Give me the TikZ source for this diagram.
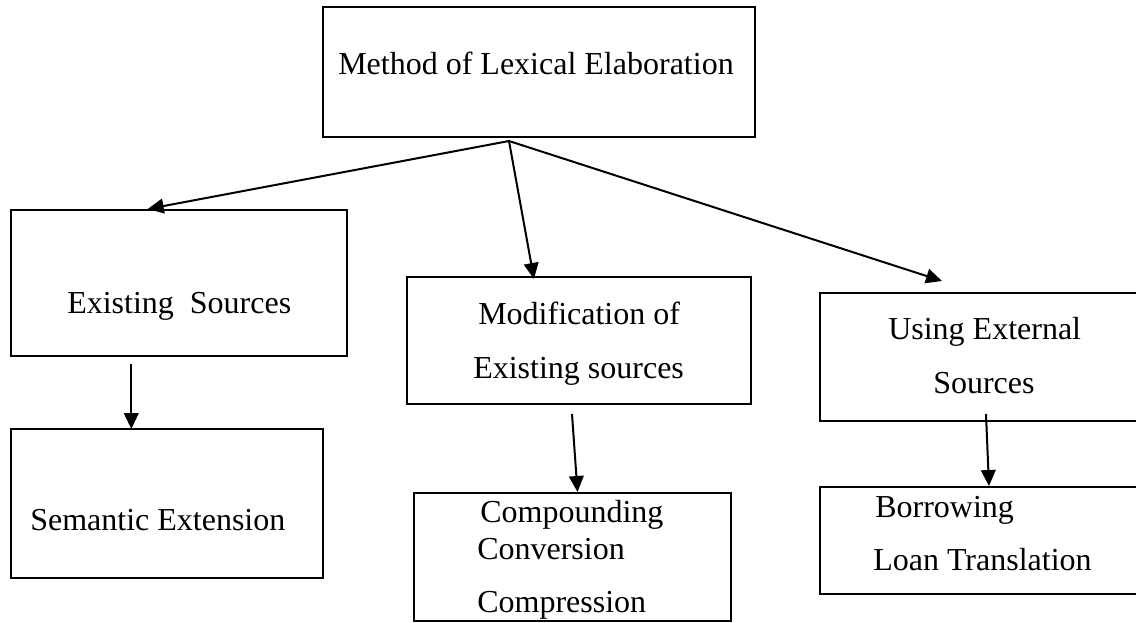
\documentclass[tikz,border=0pt]{standalone}
\usepackage{fontspec}
\setmainfont{Liberation Serif}
\usetikzlibrary{arrows.meta,calc,fit}
\begin{document}
\begin{tikzpicture}[x=0.75pt,y=-0.75pt,
  box/.style={draw,line width=1.5pt,rectangle,inner sep=0pt},
  lbl/.style={anchor=base west,inner sep=0pt,font=\fontsize{24}{28}\selectfont},
  arr/.style={line width=1.5pt,-{Triangle[length=12pt,width=11pt]}}]
\clip (0,0) rectangle (1136,622);
\fill[white] (0,0) rectangle (1136,622);

% boxes
\node[box,fit={(322.7,7) (755,137)}] (top) {};
\node[box,fit={(10.7,210) (347,355.7)}] (es) {};
\node[box,fit={(10.7,429) (323,578)}] (se) {};
\node[box,fit={(407,277) (751,404)}] (mod) {};
\node[box,fit={(413.5,493) (731,621)}] (comp) {};
\node[box,fit={(820,293) (1150,421)}] (ext) {};
\node[box,fit={(820,487) (1150,594)}] (bor) {};

% texts
\node[lbl] (t0) at (338,74) {Method of Lexical Elaboration};
\node[lbl] (t1) at (67,313) {Existing~~Sources};
\node[lbl] (t2) at (30,530) {Semantic Extension};
\node[lbl] (t3) at (478,324) {Modification of};
\node[lbl] (t4) at (473,378) {Existing sources};
\node[lbl] (t5) at (480,522.5) {Compounding};
\node[lbl] (t6) at (477,559) {Conversion};
\node[lbl] (t7) at (477,612) {Compression};
\node[lbl] (t8) at (888,339) {Using External};
\node[lbl] (t9) at (933,393) {Sources};
\node[lbl] (t10) at (875,517) {Borrowing};
\node[lbl] (t11) at (873,570) {Loan Translation};

% connectors
\coordinate (hub) at ($(top.south west)+(187.3,3)$);
\draw[arr] (hub) -- ($(es.north west)+(138,0)$);
\draw[arr] (hub) -- ($(mod.north west)+(128,3)$);
\draw[arr] (hub) -- ($(ext.north west)+(123,-11)$);
\draw[arr] ($(es.south west)+(121.6,7.3)$) -- ($(se.north west)+(121.6,1)$);
\draw[arr] ($(mod.south west)+(166,9)$) -- ($(comp.north west)+(165,0)$);
\draw[arr] ($(ext.south west)+(167,-8)$) -- ($(bor.north west)+(170,0)$);
\end{tikzpicture}
\end{document}
